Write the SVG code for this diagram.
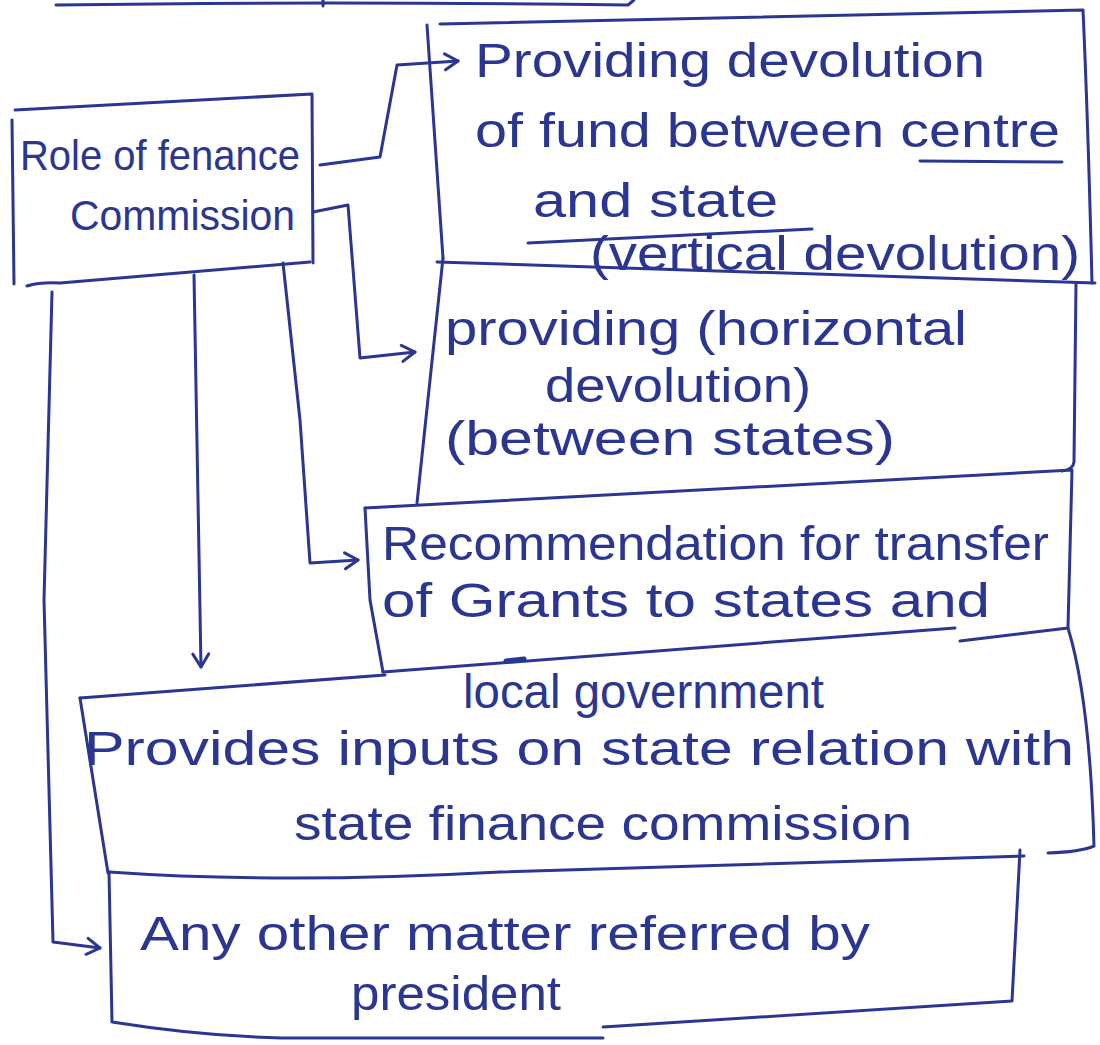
<svg xmlns="http://www.w3.org/2000/svg" width="1100" height="1045" viewBox="0 0 1100 1045">
  <style>
    .ink { fill: none; stroke: #2b3592; stroke-width: 3; stroke-linecap: round; stroke-linejoin: round; }
    .txt { font-family: "Liberation Sans", Arial, sans-serif; fill: #2b3592; font-size: 48px; }
    .small { font-size: 42px; }
  </style>
  <defs>
    <marker id="arrow" markerUnits="userSpaceOnUse" markerWidth="24" markerHeight="24" refX="16" refY="10" orient="auto">
      <path d="M3,2 L16,10 L3,18" fill="none" stroke="#2b3592" stroke-width="3" stroke-linecap="round" stroke-linejoin="round"/>
    </marker>
  </defs>
  <rect width="1100" height="1045" fill="#ffffff"/>

  <!-- bottom edge of the box above, cut off by the page -->
  <g id="top-edge">
    <path class="ink" d="M56,5 Q320,1 628,5 L634,0"/>
    <path class="ink" d="M323,0 L323,6"/>
  </g>

  <g id="role">
    <path class="ink" d="M15,110 L312,94 L313,263"/>
    <path class="ink" d="M12,120 L14,284"/>
    <path class="ink" d="M27,286 Q40,282 60,283 L310,262"/>
    <text class="txt small" x="20" y="170" textLength="280" lengthAdjust="spacingAndGlyphs">Role of fenance</text>
    <text class="txt small" x="70" y="230" textLength="225" lengthAdjust="spacingAndGlyphs">Commission</text>
  </g>

  <g id="vertical">
    <path class="ink" d="M440,24 L1083,10 Q1088,120 1092,283"/>
    <path class="ink" d="M427,25 L443,258"/>
    <path class="ink" d="M437,262 L1095,283"/>
    <path class="ink" d="M920,161 L1062,162"/>
    <path class="ink" d="M528,243 L812,229"/>
    <text class="txt" x="475" y="77" textLength="510" lengthAdjust="spacingAndGlyphs">Providing devolution</text>
    <text class="txt" x="475" y="147" textLength="585" lengthAdjust="spacingAndGlyphs">of fund between centre</text>
    <text class="txt" x="533" y="217" textLength="245" lengthAdjust="spacingAndGlyphs">and state</text>
    <text class="txt" x="590" y="270" textLength="490" lengthAdjust="spacingAndGlyphs">(vertical devolution)</text>
  </g>

  <g id="horizontal">
    <path class="ink" d="M443,258 L430,380 L417,503"/>
    <path class="ink" d="M1076,283 L1074,462 Q1073,470 1062,471"/>
    <text class="txt" x="445" y="345" textLength="522" lengthAdjust="spacingAndGlyphs">providing (horizontal</text>
    <text class="txt" x="545" y="402" textLength="266" lengthAdjust="spacingAndGlyphs">devolution)</text>
    <text class="txt" x="445" y="455" textLength="450" lengthAdjust="spacingAndGlyphs">(between states)</text>
  </g>

  <g id="grants">
    <path class="ink" d="M365,508 L1072,470 L1068,628"/>
    <path class="ink" d="M365,508 L370,600 L383,672"/>
    <path class="ink" d="M383,672 L955,628"/>
    <path class="ink" d="M506,661 L524,659" style="stroke-width:5"/>
    <text class="txt" x="382" y="560" textLength="667" lengthAdjust="spacingAndGlyphs">Recommendation for transfer</text>
    <text class="txt" x="382" y="617" textLength="608" lengthAdjust="spacingAndGlyphs">of Grants to states and</text>
  </g>

  <g id="local">
    <path class="ink" d="M80,698 L385,675"/>
    <path class="ink" d="M960,641 L1068,628 Q1090,700 1094,846 Q1080,852 1048,853"/>
    <path class="ink" d="M80,698 L108,873"/>
    <path class="ink" d="M109,872 Q280,884 500,872 L1024,856"/>
    <text class="txt" x="463" y="708" textLength="361" lengthAdjust="spacingAndGlyphs">local government</text>
    <text class="txt" x="84" y="765" textLength="990" lengthAdjust="spacingAndGlyphs">Provides inputs on state relation with</text>
    <text class="txt" x="294" y="840" textLength="618" lengthAdjust="spacingAndGlyphs">state finance commission</text>
  </g>

  <g id="president">
    <path class="ink" d="M1020,850 L1012,1001 L603,1027"/>
    <path class="ink" d="M109,872 L112,1022 Q200,1036 281,1038 L603,1038"/>
    <text class="txt" x="140" y="950" textLength="730" lengthAdjust="spacingAndGlyphs">Any other matter referred by</text>
    <text class="txt" x="351" y="1010" textLength="210" lengthAdjust="spacingAndGlyphs">president</text>
  </g>

  <g id="connectors">
    <path class="ink" d="M320,165 L380,157 L397,65 L458,61" marker-end="url(#arrow)"/>
    <path class="ink" d="M313,212 L348,205 L360,358 L415,352" marker-end="url(#arrow)"/>
    <path class="ink" d="M283,263 L300,420 L310,563 L358,560" marker-end="url(#arrow)"/>
    <path class="ink" d="M194,275 L201,667" marker-end="url(#arrow)"/>
    <path class="ink" d="M52,292 L44,600 L53,942 L100,948" marker-end="url(#arrow)"/>
  </g>
</svg>
